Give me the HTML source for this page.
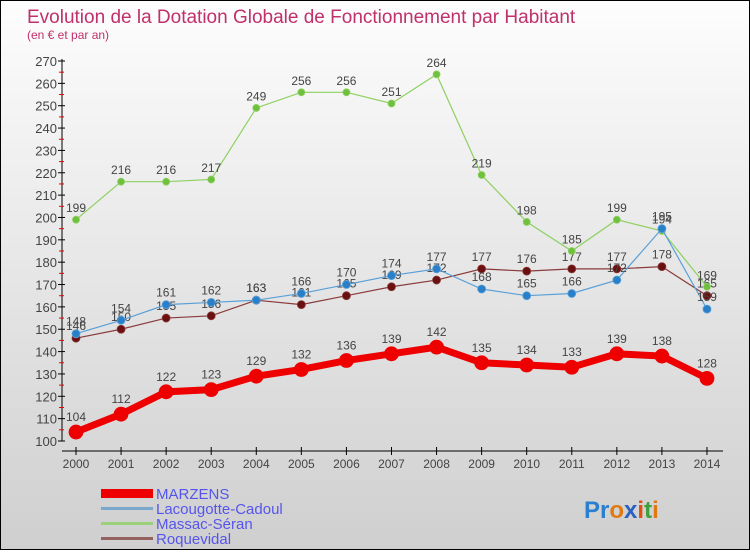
<!DOCTYPE html>
<html><head><meta charset="utf-8"><style>
body{margin:0;width:750px;height:550px;overflow:hidden;font-family:"Liberation Sans",sans-serif}
#wrap{position:relative;width:748px;height:548px;border:1px solid #000;background:linear-gradient(#fdfdfd,#cfcfcf)}
</style></head><body>
<div id="wrap">
<svg id="chart" width="748" height="548">
<text x="26" y="22" font-size="19" fill="#c0306a">Evolution de la Dotation Globale de Fonctionnement par Habitant</text>
<text x="26" y="38" font-size="12" fill="#c0306a">(en € et par an)</text>
<g id="axes"></g><g id="series"></g>
<g>
<rect x="100" y="488" width="52" height="9" fill="#e00"/>
<text x="155" y="498" font-size="15" fill="#5555ee">MARZENS</text>
<rect x="100" y="506" width="52" height="3" fill="#7aa8cc"/>
<text x="155" y="513" font-size="15" fill="#5555ee">Lacougotte-Cadoul</text>
<rect x="100" y="521" width="52" height="3" fill="#9ad07a"/>
<text x="155" y="528" font-size="15" fill="#5555ee">Massac-Séran</text>
<rect x="100" y="536" width="52" height="3" fill="#956060"/>
<text x="155" y="543" font-size="15" fill="#5555ee">Roquevidal</text>
</g>
<text x="583" y="517" font-size="24" font-weight="bold"><tspan fill="#2a80d0">Pr</tspan><tspan fill="#e07a10">o</tspan><tspan fill="#2a60c0">x</tspan><tspan fill="#e05010">i</tspan><tspan fill="#40a040">t</tspan><tspan fill="#e07a10">i</tspan></text>
</svg>
</div>
<script>
const years=[2000,2001,2002,2003,2004,2005,2006,2007,2008,2009,2010,2011,2012,2013,2014];
const marzens=[104,112,122,123,129,132,136,139,142,135,134,133,139,138,128];
const lacougotte=[148,154,161,162,163,166,170,174,177,168,165,166,172,195,159];
const massac=[199,216,216,217,249,256,256,251,264,219,198,185,199,194,169];
const roquevidal=[146,150,155,156,163,161,165,169,172,177,176,177,177,178,165];
const yTicks=[100,110,120,130,140,150,160,170,180,190,200,210,220,230,240,250,260,270];
const NS="http://www.w3.org/2000/svg";
const X=i=>75+i*45.07, Y=v=>440-(v-100)*380/170;
function mk(t,a,p){const e=document.createElementNS(NS,t);for(const k in a)e.setAttribute(k,a[k]);p.appendChild(e);return e;}
const ax=document.getElementById('axes'), se=document.getElementById('series');
let l=mk('line',{x1:61,y1:58,x2:61,y2:440,stroke:'#000'},ax);


l=mk('line',{x1:61,y1:450,x2:722,y2:450,stroke:'#000'},ax);


yTicks.forEach(v=>{
 mk('line',{x1:57,y1:Y(v),x2:64,y2:Y(v),stroke:'#000'},ax);
 if(v<270)mk('line',{x1:58,y1:Y(v+5),x2:63,y2:Y(v+5),stroke:'#e00'},ax);
 const t=mk('text',{x:56,y:Y(v)+5,'font-size':13,fill:'#444','text-anchor':'end'},ax);t.textContent=v;
 
 
});
years.forEach((y,i)=>{
 mk('line',{x1:X(i),y1:446,x2:X(i),y2:454,stroke:'#000'},ax);
 const t=mk('text',{x:X(i),y:467,'font-size':12,fill:'#444','text-anchor':'middle'},ax);t.textContent=y;
 
 
});
function draw(data,color,pt,w,r,name){
 const g=mk('g',{},se);
 
 
 mk('polyline',{points:data.map((v,i)=>X(i)+','+Y(v)).join(' '),fill:'none',stroke:color,'stroke-width':w},g);
 data.forEach((v,i)=>{
  const c=mk('circle',{cx:X(i),cy:Y(v),r:r,fill:pt,stroke:color,'stroke-width':0.8},g);
  
  
  const t=mk('text',{x:X(i),y:Y(v)-r-4,'font-size':12,fill:'#444','text-anchor':'middle'},g);t.textContent=v;
  
  
 });
}
draw(roquevidal,'#8a3a3a','#6a1010',1.2,4,'roquevidal');
draw(massac,'#8ed060','#70c040',1.2,3.5,'massac');
draw(lacougotte,'#5aa0d8','#2a80c8',1.2,4,'lacougotte');
draw(marzens,'#ee0000','#ee0000',7,7,'marzens');
</script>
</body></html>
